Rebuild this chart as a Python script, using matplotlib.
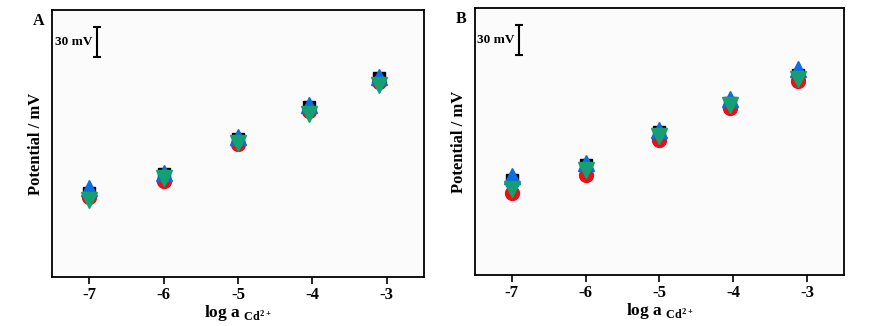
import matplotlib.pyplot as plt

plt.rcParams['font.family'] = 'Liberation Serif'
plt.rcParams['font.weight'] = 'bold'
plt.rcParams['mathtext.fontset'] = 'custom'
plt.rcParams['mathtext.rm'] = 'Liberation Serif'

# log activity of Cd2+ (points drawn slightly left of -4 and -3 in the original)
x_a = [-7, -6, -5, -4.04, -3.1]
x_b = [-7, -6, -5, -4.04, -3.12]
ticks = [-7, -6, -5, -4, -3]

# potentials in mV (relative, no absolute axis scale shown)
a_black = [84, 103, 138, 170, 199]
a_red = [80, 96, 133, 166, 195]
a_blue = [89, 104, 140, 172, 200]
a_green = [77, 99, 134, 163, 192]

b_black = [95, 110, 143, 172, 200]
b_red = [82, 100, 135, 167, 194]
b_blue = [99, 112, 145, 176, 206]
b_green = [86, 105, 139, 170, 196]

fig = plt.figure(figsize=(8.84, 3.26), dpi=100)
ax_a = fig.add_axes([0.0588, 0.1503, 0.4208, 0.819])
ax_b = fig.add_axes([0.5373, 0.1564, 0.4174, 0.819])

panels = [
    (ax_a, 'A', x_a, a_black, a_red, a_blue, a_green),
    (ax_b, 'B', x_b, b_black, b_red, b_blue, b_green),
]

for ax, name, xs, blk, red, blu, grn in panels:
    ax.set_facecolor('#fbfbfb')
    ax.plot(xs, blk, 's', color='black', ms=8.5, ls='')
    ax.plot(xs, red, 'o', color='#e8101a', ms=10, ls='')
    ax.plot(xs, blu, '^', color='#0a6ee0', ms=11.5, ls='')
    ax.plot(xs, grn, 'v', color='#14a070', ms=11.5, ls='')

    ax.set_xlim(-7.5, -2.5)
    ax.set_ylim(0, 267)
    ax.set_xticks(ticks)
    ax.set_xticklabels([str(t) for t in ticks], fontsize=12, fontweight='bold')
    ax.set_yticks([])
    ax.tick_params(axis='x', direction='out', length=5, width=1.2, pad=2)
    for s in ax.spines.values():
        s.set_linewidth(1.3)

    ax.set_xlabel(r'log a $_{\mathregular{Cd^{2+}}}$', fontsize=12.5, fontweight='bold', labelpad=0)
    ax.set_ylabel('Potential / mV', fontsize=12, fontweight='bold', labelpad=6)

    # 30 mV scale bar
    ax.errorbar([-6.9], [235], yerr=[15], fmt='none', ecolor='black', elinewidth=1.5, capsize=3, capthick=1.5)
    ax.text(-6.96, 235, '30 mV', ha='right', va='center', fontsize=9.5, fontweight='bold')

    ax.text(-0.052, 0.96, name, transform=ax.transAxes, ha='left', va='center', fontsize=11.5, fontweight='bold')

fig.savefig('out.png', dpi=100)
